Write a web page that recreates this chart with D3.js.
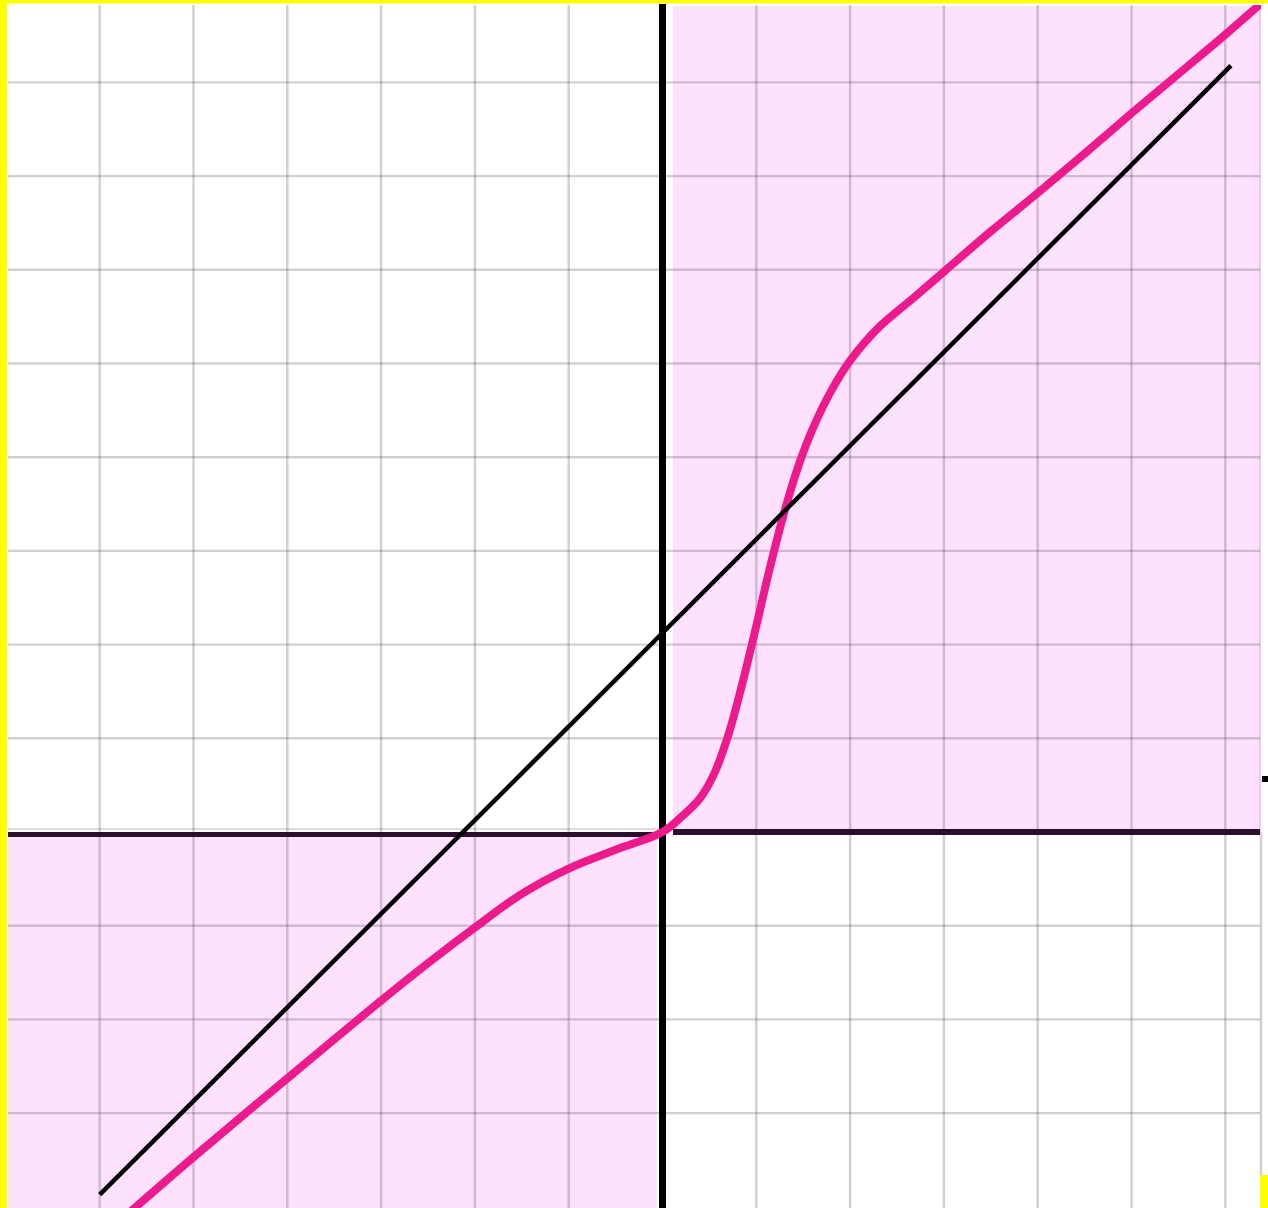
<!DOCTYPE html>
<html><head><meta charset="utf-8">
<script src="https://cdn.jsdelivr.net/npm/d3@7"></script>
<style>html,body{margin:0;padding:0;background:#fff;overflow:hidden}svg{display:block}</style>
</head><body>
<svg id="c" width="1268" height="1208"></svg>
<script>
// ---- data ----
const gridXTicks = [-6,-5,-4,-3,-2,-1,1,2,3,4,5,6];
const gridYTicks = [-3,-2,-1,1,2,3,4,5,6,7,8];
const curveX = [-5.75,-5.0,-4.0,-3.0,-2.5,-2.0,-1.5,-1.0,-0.5,0,0.2,0.4,0.55,0.7,0.85,1.0,1.15,1.3,1.45,1.6,1.8,2.0,2.3,2.7,3.0,3.5,4.0,4.5,5.0,5.5,6.0,6.4];
const curveY = [-4.12,-3.47,-2.63,-1.80,-1.40,-1.02,-0.66,-0.39,-0.19,0,0.16,0.36,0.62,1.03,1.58,2.20,2.84,3.42,3.91,4.30,4.71,5.03,5.38,5.72,5.98,6.41,6.82,7.24,7.67,8.09,8.51,8.86];
const lineX = [-6.0, 6.06];
const lineY = [-3.87, 8.18];

(function () {
  // ---- scales ----
  const W = 1268, H = 1208;
  const x = d3.scaleLinear().domain([-6, 6]).range([99.7, 1225.3]);
  const y = d3.scaleLinear().domain([-4, 8]).range([1206.8, 82.4]);
  const pL = 8, pR = 1260, pT = 5, pB = H;

  const svg = d3.select('#c');
  svg.append('rect').attr('width', W).attr('height', H).attr('fill', '#fff');

  const x0 = x(0), y0 = y(0);
  const pink = '#fde1fd';
  // quadrant fills
  svg.append('rect').attr('x', x0 + 10.5).attr('y', pT + 1).attr('width', pR - (x0 + 10.5)).attr('height', y0 - 3 - (pT + 1)).attr('fill', pink);
  svg.append('rect').attr('x', pL).attr('y', y0 + 3).attr('width', x0 - 5.5 - pL).attr('height', pB - (y0 + 3)).attr('fill', pink);
  svg.append('line').attr('x1', pR).attr('x2', pR).attr('y1', pT).attr('y2', y0).attr('stroke', '#e9b9e9').attr('stroke-width', 1.5);

  // grid
  const grid = svg.append('g').attr('stroke', 'rgba(70,50,70,0.24)').attr('stroke-width', 2.4);
  grid.selectAll('.gx').data(gridXTicks).join('line')
    .attr('x1', d => x(d)).attr('x2', d => x(d)).attr('y1', pT).attr('y2', pB);
  grid.selectAll('.gy').data(gridYTicks).join('line')
    .attr('y1', d => y(d)).attr('y2', d => y(d)).attr('x1', pL).attr('x2', pR);
  grid.append('line').attr('x1', pR + 1).attr('x2', pR + 1).attr('y1', y0).attr('y2', 1176);
  grid.append('line').attr('x1', pL).attr('x2', x0 - 4).attr('y1', y0 - 3).attr('y2', y0 - 3).attr('stroke-width', 1.5);

  // axes
  svg.append('line').attr('x1', pL).attr('x2', x0 - 5).attr('y1', y0 + 2.5).attr('y2', y0 + 2.5).attr('stroke', '#2c0e2d').attr('stroke-width', 5);
  svg.append('line').attr('x1', x0 + 10.5).attr('x2', pR).attr('y1', y0).attr('y2', y0).attr('stroke', '#2c0e2d').attr('stroke-width', 6);
  svg.append('line').attr('x1', x0).attr('x2', x0).attr('y1', pT - 1).attr('y2', pB).attr('stroke', '#000').attr('stroke-width', 7);

  // curve
  svg.append('clipPath').attr('id', 'pc').append('rect').attr('x', pL).attr('y', pT).attr('width', pR - pL + 1).attr('height', pB - pT);
  const pts = curveX.map((d, i) => [d, curveY[i]]);
  svg.append('path').datum(pts).attr('clip-path', 'url(#pc)')
    .attr('d', d3.line().x(d => x(d[0])).y(d => y(d[1])).curve(d3.curveCatmullRom.alpha(0.5)))
    .attr('fill', 'none').attr('stroke', '#ec1a8c').attr('stroke-width', 8).attr('stroke-linejoin', 'round');

  // straight line
  const lpts = lineX.map((d, i) => [d, lineY[i]]);
  svg.append('path').datum(lpts)
    .attr('d', d3.line().x(d => x(d[0])).y(d => y(d[1])))
    .attr('fill', 'none').attr('stroke', '#000').attr('stroke-width', 4.5);

  // frame decorations
  svg.append('rect').attr('x', 0).attr('y', 0).attr('width', 7).attr('height', H).attr('fill', '#ffff00');
  svg.append('rect').attr('x', 0).attr('y', 0).attr('width', W).attr('height', 3.5).attr('fill', '#ffff00');
  svg.append('rect').attr('x', pR).attr('y', 1175).attr('width', W - pR).attr('height', H - 1175).attr('fill', '#ffff00');
  svg.append('rect').attr('x', pR + 2).attr('y', 776).attr('width', W - pR - 2).attr('height', 6).attr('fill', '#000');
})();
</script>
</body></html>
